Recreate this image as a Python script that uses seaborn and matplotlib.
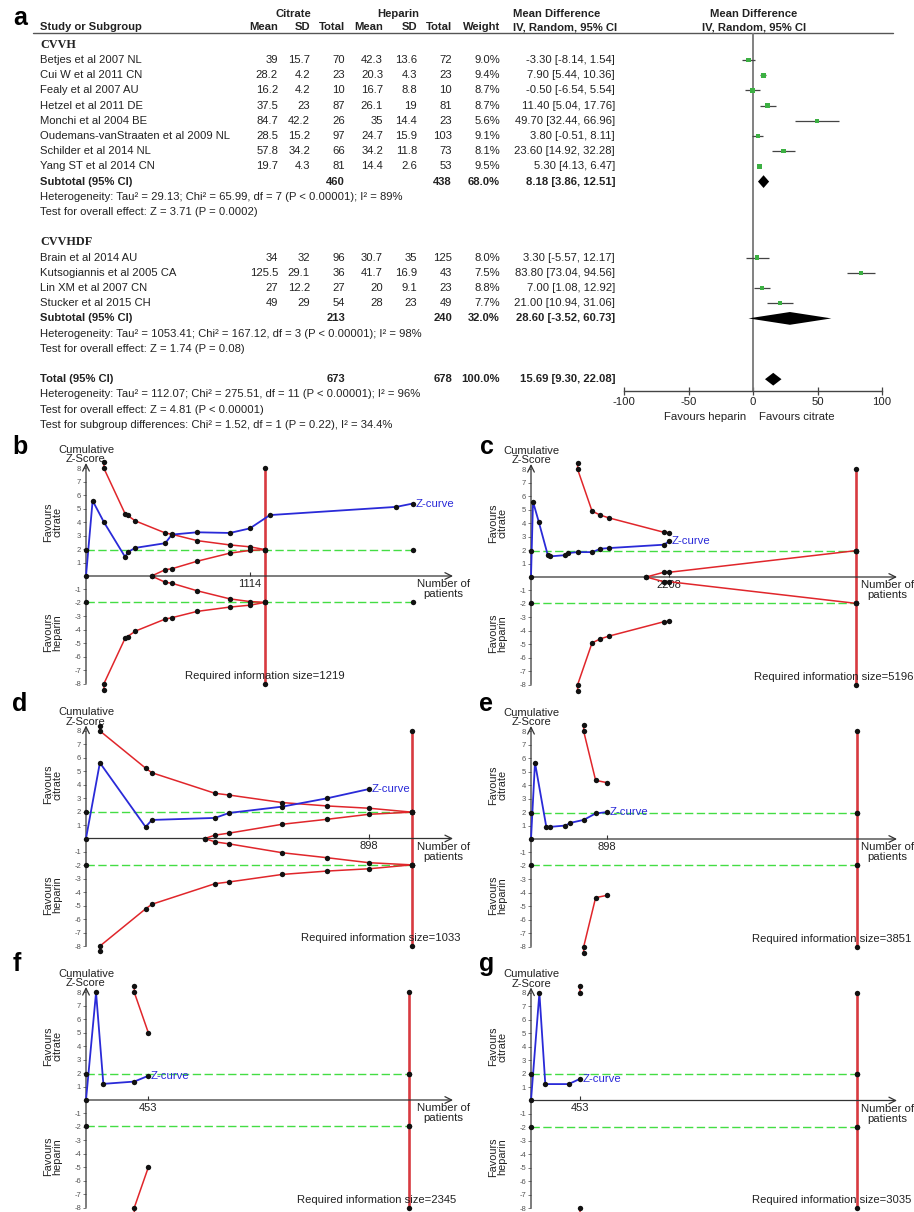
import numpy as np
import matplotlib
matplotlib.use("Agg")
import matplotlib.pyplot as plt
import seaborn as sns

# ---------------- panel a: forest plot ----------------
cvvh_study = ["Betjes et al 2007 NL", "Cui W et al 2011 CN", "Fealy et al 2007 AU",
              "Hetzel et al 2011 DE", "Monchi et al 2004 BE",
              "Oudemans-vanStraaten et al 2009 NL", "Schilder et al 2014 NL",
              "Yang ST et al 2014 CN"]
cvvhdf_study = ["Brain et al 2014 AU", "Kutsogiannis et al 2005 CA",
                "Lin XM et al 2007 CN", "Stucker et al 2015 CH"]
cit_mean = [39, 28.2, 16.2, 37.5, 84.7, 28.5, 57.8, 19.7, 34, 125.5, 27, 49]
cit_sd = [15.7, 4.2, 4.2, 23, 42.2, 15.2, 34.2, 4.3, 32, 29.1, 12.2, 29]
cit_n = [70, 23, 10, 87, 26, 97, 66, 81, 96, 36, 27, 54]
hep_mean = [42.3, 20.3, 16.7, 26.1, 35, 24.7, 34.2, 14.4, 30.7, 41.7, 20, 28]
hep_sd = [13.6, 4.3, 8.8, 19, 14.4, 15.9, 11.8, 2.6, 35, 16.9, 9.1, 23]
hep_n = [72, 23, 10, 81, 23, 103, 73, 53, 125, 43, 23, 49]
weight = [9.0, 9.4, 8.7, 8.7, 5.6, 9.1, 8.1, 9.5, 8.0, 7.5, 8.8, 7.7]
md = [-3.30, 7.90, -0.50, 11.40, 49.70, 3.80, 23.60, 5.30, 3.30, 83.80, 7.00, 21.00]
md_lo = [-8.14, 5.44, -6.54, 5.04, 32.44, -0.51, 14.92, 4.13, -5.57, 73.04, 1.08, 10.94]
md_hi = [1.54, 10.36, 5.54, 17.76, 66.96, 8.11, 32.28, 6.47, 12.17, 94.56, 12.92, 31.06]

pooled_name = ["Subtotal (95% CI)", "Subtotal (95% CI)", "Total (95% CI)"]
pooled_cit_n = [460, 213, 673]
pooled_hep_n = [438, 240, 678]
pooled_weight = [68.0, 32.0, 100.0]
pooled_md = [8.18, 28.60, 15.69]
pooled_lo = [3.86, -3.52, 9.30]
pooled_hi = [12.51, 60.73, 22.08]

notes = [
    "Heterogeneity: Tau\u00b2 = 29.13; Chi\u00b2 = 65.99, df = 7 (P < 0.00001); I\u00b2 = 89%",
    "Test for overall effect: Z = 3.71 (P = 0.0002)",
    "Heterogeneity: Tau\u00b2 = 1053.41; Chi\u00b2 = 167.12, df = 3 (P < 0.00001); I\u00b2 = 98%",
    "Test for overall effect: Z = 1.74 (P = 0.08)",
    "Heterogeneity: Tau\u00b2 = 112.07; Chi\u00b2 = 275.51, df = 11 (P < 0.00001); I\u00b2 = 96%",
    "Test for overall effect: Z = 4.81 (P < 0.00001)",
    "Test for subgroup differences: Chi\u00b2 = 1.52, df = 1 (P = 0.22), I\u00b2 = 34.4%",
]
forest_ticks = [-100, -50, 0, 50, 100]

# table rows (row index -> line of the table)
study_rows = list(range(0, 8)) + list(range(13, 17))
pooled_rows = [8, 17, 21]
group_rows = {"CVVH": -1, "CVVHDF": 12}
note_rows = [9, 10, 18, 19, 22, 23, 24]

# ---------------- panels b-g: trial sequential analysis ----------------
# cumulative patients / cumulative Z
b_zx = [0, 45, 122, 267, 283, 335, 539, 584, 756, 978, 1114, 1250, 2110, 2223]
b_zy = [0, 5.6, 4.0, 1.4, 1.77, 2.09, 2.44, 3.08, 3.25, 3.2, 3.54, 4.53, 5.14, 5.39]
b_bx = [122, 122, 267, 283, 335, 539, 584, 756, 978, 1114, 1219]
b_by = [8.5, 8.0, 4.6, 4.5, 4.1, 3.2, 3.1, 2.63, 2.31, 2.17, 1.96]
b_ix = [446, 539, 584, 756, 978, 1114, 1219]
b_iy = [0, 0.47, 0.54, 1.1, 1.7, 1.9, 1.96]

c_zx = [0, 32, 123, 267, 299, 538, 586, 746, 981, 1109, 1242, 2121, 2208]
c_zy = [0, 5.6, 4.12, 1.65, 1.53, 1.62, 1.78, 1.85, 1.85, 2.1, 2.15, 2.4, 2.64]
c_bx = [746, 746, 976, 1109, 1242, 2121, 2208]
c_by = [8.45, 8.0, 4.9, 4.6, 4.4, 3.33, 3.3]
c_ix = [1844, 2121, 2208, 5196]
c_iy = [0, 0.35, 0.35, 1.96]

d_zx = [0, 44, 189, 209, 409, 454, 623, 765, 898]
d_zy = [0, 5.63, 0.86, 1.38, 1.53, 1.9, 2.37, 2.99, 3.68]
d_bx = [44, 44, 189, 209, 409, 454, 623, 765, 898, 1033]
d_by = [8.4, 8.0, 5.23, 4.89, 3.36, 3.23, 2.67, 2.42, 2.25, 1.96]
d_ix = [377, 409, 454, 623, 765, 898, 1033]
d_iy = [0, 0.25, 0.4, 1.06, 1.43, 1.8, 1.96]

e_zx = [0, 47, 181, 221, 406, 465, 623, 764, 898]
e_zy = [0, 5.68, 0.9, 0.9, 1.0, 1.2, 1.42, 1.9, 2.0]
e_bx = [623, 623, 764, 898]
e_by = [8.5, 8.0, 4.36, 4.19]

f_zx = [0, 73, 126, 351, 453]
f_zy = [0, 8.0, 1.2, 1.37, 1.8]
f_bx = [351, 351, 453]
f_by = [8.5, 8.0, 5.0]

g_zx = [0, 78, 133, 350, 453]
g_zy = [0, 8.0, 1.22, 1.22, 1.6]
g_bx = [453, 453]
g_by = [8.5, 8.0]

ris = [1219, 5196, 1033, 3851, 2345, 3035]
x_tick = [1114, 2208, 898, 898, 453, 453]
x_max = [2495, 5852, 1164, 4326, 2667, 3404]
Z_CONV = 1.96

sns.set_theme(style="white")
plt.rcParams["font.family"] = ["Liberation Sans", "DejaVu Sans"]

W, H = 914, 1212
fig = plt.figure(figsize=(W / 100, H / 100), dpi=100)


def rect(left, top, width, height):
    return [left / W, 1 - (top + height) / H, width / W, height / H]


# full-figure axes in pixel units for the table text and panel letters
bg = fig.add_axes([0, 0, 1, 1])
bg.set_xlim(0, W)
bg.set_ylim(H, 0)
bg.axis("off")

TXT = "#222222"
FS = 8.1


def row_y(r):
    return 60 + 15.2 * r


def put(x, r, s, ha="right", bold=False, **kw):
    bg.text(x, row_y(r), s, ha=ha, va="center", fontsize=FS, color=TXT,
            fontweight="bold" if bold else "normal", **kw)


col_x = [278, 310, 345, 383, 417, 452]  # right edges of the numeric columns
W_X, MD_X, STUDY_X = 500, 615, 40

# headers
for s, x in [("Citrate", 293), ("Heparin", 398)]:
    bg.text(x, 14, s, ha="center", va="center", fontsize=FS, fontweight="bold", color=TXT)
bg.text(513, 14, "Mean Difference", ha="left", va="center", fontsize=FS, fontweight="bold", color=TXT)
bg.text(754, 14, "Mean Difference", ha="center", va="center", fontsize=FS, fontweight="bold", color=TXT)
bg.text(STUDY_X, 27, "Study or Subgroup", ha="left", va="center", fontsize=FS, fontweight="bold", color=TXT)
for s, x in zip(["Mean", "SD", "Total", "Mean", "SD", "Total", "Weight"], col_x + [W_X]):
    bg.text(x, 27, s, ha="right", va="center", fontsize=FS, fontweight="bold", color=TXT)
bg.text(513, 27, "IV, Random, 95% CI", ha="left", va="center", fontsize=FS, fontweight="bold", color=TXT)
bg.text(754, 27, "IV, Random, 95% CI", ha="center", va="center", fontsize=FS, fontweight="bold", color=TXT)
bg.plot([33, 893], [33, 33], color="#555555", lw=1.0)

for g, r in group_rows.items():
    bg.text(STUDY_X, row_y(r), g, ha="left", va="center", fontsize=FS + 0.6,
            fontweight="bold", family="Liberation Serif", color=TXT)

for i, r in enumerate(study_rows):
    name = (cvvh_study + cvvhdf_study)[i]
    put(STUDY_X, r, name, ha="left")
    vals = [cit_mean[i], cit_sd[i], cit_n[i], hep_mean[i], hep_sd[i], hep_n[i]]
    for x, v in zip(col_x, vals):
        put(x, r, f"{v:g}")
    put(W_X, r, f"{weight[i]:.1f}%")
    put(MD_X, r, f"{md[i]:.2f} [{md_lo[i]:.2f}, {md_hi[i]:.2f}]")

for i, r in enumerate(pooled_rows):
    put(STUDY_X, r, pooled_name[i], ha="left", bold=True)
    put(col_x[2], r, str(pooled_cit_n[i]), bold=True)
    put(col_x[5], r, str(pooled_hep_n[i]), bold=True)
    put(W_X, r, f"{pooled_weight[i]:.1f}%", bold=True)
    put(MD_X, r, f"{pooled_md[i]:.2f} [{pooled_lo[i]:.2f}, {pooled_hi[i]:.2f}]", bold=True)

for s, r in zip(notes, note_rows):
    put(STUDY_X, r, s, ha="left")

# forest axes: -100..100 over x px 624..882, rows over y px 33..391
fa = fig.add_axes(rect(624, 33, 258, 358))
fa.set_facecolor("none")
sns.scatterplot(x=md, y=study_rows, ax=fa, marker="s", color="#3cb043",
                s=np.array(weight) * 1.2, linewidth=0, zorder=4, legend=False)
fa.hlines(study_rows, md_lo, md_hi, color="#444444", lw=0.9, zorder=3)
for m, lo, hi, r in zip(pooled_md, pooled_lo, pooled_hi, pooled_rows):
    fa.fill([lo, m, hi, m], [r, r - 0.42, r, r + 0.42], color="black", lw=0, zorder=4)
fa.axvline(0, color="#777777", lw=1.3, zorder=1)
fa.set_xlim(-100, 100)
fa.set_ylim((391 - 60) / 15.2, (33 - 60) / 15.2)
sns.despine(ax=fa, left=True)
fa.spines["bottom"].set_color("#444444")
fa.spines["bottom"].set_linewidth(1.0)
fa.set_yticks([])
fa.set_xticks(forest_ticks)
fa.set_xticklabels([str(t) for t in forest_ticks])
fa.tick_params(axis="x", bottom=True, direction="inout", length=6, width=0.9,
               color="#444444", labelsize=8.2, labelcolor=TXT, pad=1)
fa.text(-5, -0.072, "Favours heparin", transform=fa.get_xaxis_transform(),
        ha="right", va="center", fontsize=8.2, color=TXT)
fa.text(5, -0.072, "Favours citrate", transform=fa.get_xaxis_transform(),
        ha="left", va="center", fontsize=8.2, color=TXT)

# ---------------- TSA panels ----------------
BLUE = "#2a2ad8"
RED = "#e0262b"
RIS_RED = "#d83a40"
GREEN = "#44dd44"
DOT = "#111111"
U = 13.45  # px per z unit

panels = [
    ("b", (86, 453, 576.0), b_zx, b_zy, b_bx, b_by, b_ix, b_iy, None),
    ("c", (531, 897, 577.0), c_zx, c_zy, c_bx, c_by, c_ix, c_iy, 1.045),
    ("d", (86, 453, 838.5), d_zx, d_zy, d_bx, d_by, d_ix, d_iy, 1.02),
    ("e", (531, 897, 839.0), e_zx, e_zy, e_bx, e_by, [], [], 1.04),
    ("f", (86, 453, 1100.0), f_zx, f_zy, f_bx, f_by, [], [], 1.01),
    ("g", (531, 897, 1100.5), g_zx, g_zy, g_bx, g_by, [], [], 1.04),
]
letter_pos = [(20, 447), (487, 447), (20, 704), (486, 704), (17, 964), (487, 964)]


def dots(ax, x, y):
    sns.scatterplot(x=list(x), y=list(y), ax=ax, color=DOT, s=15, linewidth=0,
                    zorder=6, clip_on=False, legend=False)


def line(ax, x, y, color, lw, z=3, **kw):
    sns.lineplot(x=list(x), y=list(y), ax=ax, color=color, lw=lw, sort=False,
                 estimator=None, clip_on=False, legend=False, zorder=z, **kw)


for k, (lab, (L, R, Y0), zx, zy, bx, by, ix, iy, ris_lab) in enumerate(panels):
    ax = fig.add_axes(rect(L, Y0 - 9 * U, R - L, 18 * U))
    ax.set_facecolor("none")
    n_ris = ris[k]

    # conventional boundaries
    g_end = max(n_ris, zx[-1])
    for sgn in (1, -1):
        line(ax, [0, g_end], [sgn * Z_CONV] * 2, GREEN, 1.0, z=2, linestyle=(0, (6, 2.5)))
        dots(ax, [0, g_end], [sgn * Z_CONV] * 2)

    # required information size
    line(ax, [n_ris, n_ris], [-8, 8], RIS_RED, 1.9, z=3)
    dots(ax, [n_ris] * 4, [8, Z_CONV, -Z_CONV, -8])

    # monitoring boundaries (upper / lower) and futility wedge
    for sgn in (1, -1):
        line(ax, bx, [sgn * v for v in by], RED, 1.1, z=4)
        dots(ax, bx, [sgn * v for v in by])
        if ix:
            line(ax, ix, [sgn * v for v in iy], RED, 1.1, z=4)
            dots(ax, ix, [sgn * v for v in iy])

    # Z-curve
    line(ax, zx, zy, BLUE, 1.3, z=5)
    dots(ax, zx, zy)
    ax.annotate("Z-curve", xy=(zx[-1], zy[-1]), xytext=(2, 0), textcoords="offset points",
                ha="left", va="center", fontsize=8.2, color=BLUE)

    ax.set_xlim(0, x_max[k])
    ax.set_ylim(-9, 9)
    sns.despine(ax=ax, left=True, bottom=True)

    # axes drawn as arrows
    ax.annotate("", xy=(x_max[k], 0), xytext=(0, 0), annotation_clip=False,
                arrowprops=dict(arrowstyle="->", color="#333333", lw=0.9, shrinkA=0, shrinkB=0))
    ax.annotate("", xy=(0, 8.4), xytext=(0, -8), annotation_clip=False,
                arrowprops=dict(arrowstyle="->", color="#333333", lw=0.9, shrinkA=0, shrinkB=0))

    yt = [v for v in range(8, -9, -1) if v != 0]
    ax.set_yticks(yt)
    ax.set_yticklabels([str(v) for v in yt])
    ax.set_xticks([])
    ax.tick_params(axis="y", left=True, direction="out", length=2.5, width=0.6,
                   color="#666666", labelsize=5.5, labelcolor="#555555", pad=1)

    ax.vlines(x_tick[k], 0, 0.3, color="#333333", lw=0.8)
    ax.annotate(str(x_tick[k]), xy=(x_tick[k], 0), xytext=(0, -2), textcoords="offset points",
                ha="center", va="top", fontsize=8, color=TXT)

    ax.annotate("Number of\npatients", xy=(x_max[k], 0), xytext=(-7, -2.5),
                textcoords="offset points", ha="center", va="top", fontsize=8.2,
                color=TXT, linespacing=1.0, annotation_clip=False)
    ax.annotate("Cumulative\nZ-Score", xy=(0, 8.4), xytext=(0, -1), textcoords="offset points",
                ha="center", va="bottom", fontsize=8, color=TXT, linespacing=0.95,
                annotation_clip=False)
    ax.annotate("Favours\ncitrate", xy=(0, 4), xytext=(-24, 0), textcoords="offset points",
                ha="center", va="center", rotation=90, fontsize=7.8, color=TXT,
                linespacing=0.9, annotation_clip=False)
    ax.annotate("Favours\nheparin", xy=(0, -4.2), xytext=(-24, 0), textcoords="offset points",
                ha="center", va="center", rotation=90, fontsize=7.8, color=TXT,
                linespacing=0.9, annotation_clip=False)

    ris_txt = f"Required information size={n_ris}"
    if ris_lab is None:
        ax.text(n_ris, -7.4, ris_txt, ha="center", va="center", fontsize=8.1, color=TXT)
    else:
        ax.text(ris_lab, -7.4, ris_txt, transform=ax.get_yaxis_transform(),
                ha="right", va="center", fontsize=8.1, color=TXT, clip_on=False)

bg.text(20, 18, "a", ha="center", va="center", fontsize=18, fontweight="bold", color="black")
for (lab, *_), (x, y) in zip(panels, letter_pos):
    bg.text(x, y, lab, ha="center", va="center", fontsize=18, fontweight="bold", color="black")

fig.savefig("out.png", dpi=100)
